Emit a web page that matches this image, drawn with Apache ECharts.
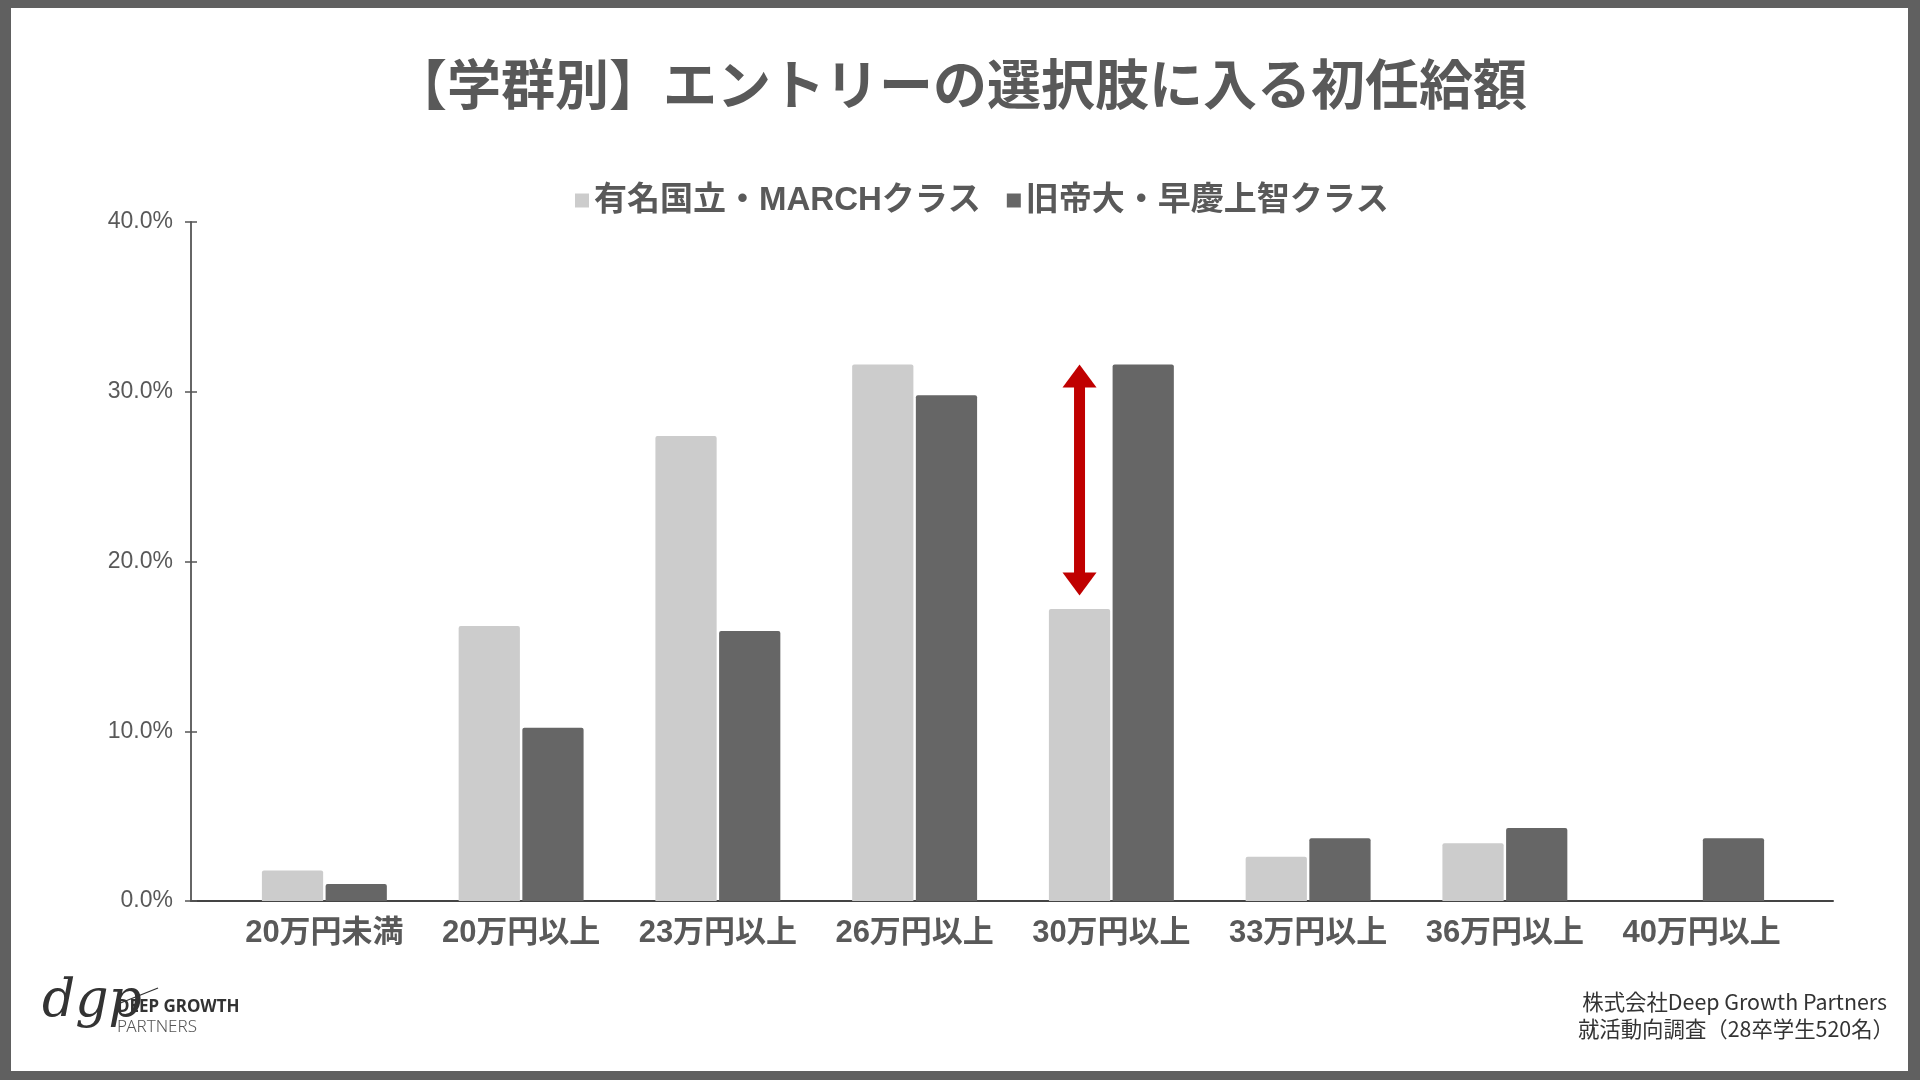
<!DOCTYPE html>
<html>
<head>
<meta charset="utf-8">
<script src="https://cdn.jsdelivr.net/npm/echarts@6/dist/echarts.min.js"></script>
<style>
html,body{margin:0;padding:0;background:#606060;}
#chart{width:1920px;height:1080px;}
</style>
</head>
<body>
<div id="chart"></div>
<script>
const titleText = '【学群別】エントリーの選択肢に入る初任給額';
const categories = ['20万円未満','20万円以上','23万円以上','26万円以上','30万円以上','33万円以上','36万円以上','40万円以上'];
const seriesNames = ['有名国立・MARCHクラス','旧帝大・早慶上智クラス'];
const valuesA = [1.8, 16.2, 27.4, 31.6, 17.2, 2.6, 3.4, 0];
const valuesB = [1.0, 10.2, 15.9, 29.8, 31.6, 3.7, 4.3, 3.7];
const arrowData = [[4, 31.6, 18.0]];
const footerLines = ['株式会社Deep Growth Partners', '就活動向調査（28卒学生520名）'];

const CAT_GAP = 0.365, BAR_GAP = 0.04;
const chart = echarts.init(document.getElementById('chart'));
const cjk = "'Liberation Sans','Noto Sans CJK JP',sans-serif";
const TOP = 222, BOTTOM = 179;

chart.setOption({
  animation: false,
  backgroundColor: '#606060',
  title: {
    text: titleText,
    left: 'center',
    top: 52,
    textStyle: {fontFamily: "'Noto Sans CJK JP',sans-serif", fontWeight: 'bold', fontSize: 54, color: '#595959'}
  },
  legend: {
    data: seriesNames,
    left: 570,
    top: 179,
    itemWidth: 14,
    itemHeight: 14,
    itemGap: 26,
    icon: 'rect',
    textStyle: {fontFamily: cjk, fontWeight: 'bold', fontSize: 33, color: '#595959'}
  },
  grid: [
    {left: 226, right: 120, top: TOP, bottom: BOTTOM},
    {left: 191, right: 87, top: TOP, bottom: BOTTOM}
  ],
  xAxis: [{
    type: 'category', gridIndex: 0,
    data: categories,
    axisLine: {show: false},
    axisTick: {show: false},
    axisLabel: {interval: 0, fontFamily: cjk, fontWeight: 'bold', fontSize: 31, color: '#595959', margin: 17}
  }, {
    type: 'value', gridIndex: 1, min: 0, max: 1,
    axisLine: {show: true, lineStyle: {color: '#444', width: 2}},
    axisTick: {show: false}, axisLabel: {show: false}, splitLine: {show: false}
  }],
  yAxis: [{
    type: 'value', gridIndex: 0, min: 0, max: 40, interval: 10,
    show: false
  }, {
    type: 'value', gridIndex: 1, min: 0, max: 40, interval: 10,
    splitLine: {show: false},
    axisLine: {show: true, lineStyle: {color: '#666', width: 2}},
    axisTick: {show: true, length: 6, lineStyle: {color: '#555', width: 1.5}},
    axisLabel: {fontFamily: "'Liberation Sans',sans-serif", fontSize: 23, color: '#595959', margin: 18,
      formatter: v => v.toFixed(1) + '%'}
  }, {
    type: 'value', gridIndex: 1, min: 0, max: 40, interval: 10, position: 'left',
    splitLine: {show: false},
    axisLine: {show: false},
    axisTick: {show: true, inside: true, length: 6, lineStyle: {color: '#555', width: 1.5}},
    axisLabel: {show: false}
  }],
  graphic: [
    {type: 'rect', z: -10, shape: {x: 11, y: 8, width: 1897, height: 1063}, style: {fill: '#ffffff'}},
    {type: 'text', right: 33, top: 991, style: {text: footerLines[0], font: "21.4px 'Noto Sans CJK JP'", fill: '#333'}},
    {type: 'text', right: 26, top: 1018, style: {text: footerLines[1], font: "21.4px 'Noto Sans CJK JP'", fill: '#333'}},
    {type: 'text', left: 42, top: 976, style: {text: 'dgp', font: "italic 300 52px 'DejaVu Serif'", fill: '#333'}},
    {type: 'line', shape: {x1: 118, y1: 1004, x2: 158, y2: 988}, style: {stroke: '#333', lineWidth: 1.3}},
    {type: 'text', left: 117, top: 999, style: {text: 'DEEP GROWTH', font: "bold 17px 'Noto Sans'", fill: '#333'}},
    {type: 'text', left: 117, top: 1019, style: {text: 'PARTNERS', font: "300 17px 'Noto Sans'", fill: '#555'}}
  ],
  series: [{
    name: seriesNames[0], type: 'bar', data: valuesA,
    xAxisIndex: 0, yAxisIndex: 0,
    barCategoryGap: (CAT_GAP * 100) + '%', barGap: (BAR_GAP * 100) + '%',
    itemStyle: {color: '#cccccc', borderRadius: [2, 2, 0, 0]}
  }, {
    name: seriesNames[1], type: 'bar', data: valuesB,
    xAxisIndex: 0, yAxisIndex: 0,
    barCategoryGap: (CAT_GAP * 100) + '%', barGap: (BAR_GAP * 100) + '%',
    itemStyle: {color: '#666666', borderRadius: [2, 2, 0, 0]}
  }, {
    type: 'custom', name: 'arrow', z: 5,
    xAxisIndex: 0, yAxisIndex: 0,
    data: arrowData,
    renderItem: function (params, api) {
      const idx = api.value(0);
      const p1 = api.coord([idx, api.value(1)]);
      const p2 = api.coord([idx, api.value(2)]);
      const band = api.size([1, 0])[0];
      const barW = band * (1 - CAT_GAP) / (2 + BAR_GAP);
      const cx = p1[0] - barW * (1 + BAR_GAP) / 2;
      const headH = 23, headW = 17, shaftW = 5.5;
      const color = '#c00000';
      return {
        type: 'group',
        children: [
          {type: 'rect', shape: {x: cx - shaftW, y: p1[1] + headH - 1, width: shaftW * 2, height: p2[1] - p1[1] - 2 * headH + 2}, style: {fill: color}},
          {type: 'polygon', shape: {points: [[cx, p1[1]], [cx + headW, p1[1] + headH], [cx - headW, p1[1] + headH]]}, style: {fill: color}},
          {type: 'polygon', shape: {points: [[cx, p2[1]], [cx + headW, p2[1] - headH], [cx - headW, p2[1] - headH]]}, style: {fill: color}}
        ]
      };
    }
  }]
});
</script>
</body>
</html>
